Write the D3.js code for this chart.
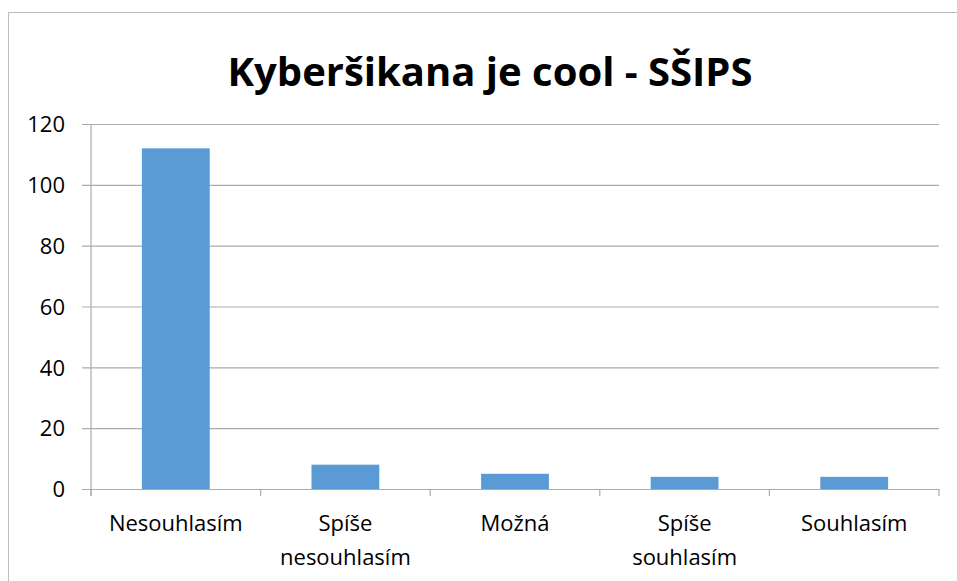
<!DOCTYPE html>
<html>
<head>
<meta charset="utf-8">
<script src="https://cdn.jsdelivr.net/npm/d3@7"></script>
<style>
  html, body { margin: 0; padding: 0; background: #fff; }
  svg { display: block; }
  text { font-family: "Open Sans", "Noto Sans", sans-serif; fill: #000; }
</style>
</head>
<body>
<svg id="chart" width="957" height="581"></svg>
<script>
// Survey answers and counts
const categories = [
  ["Nesouhlasím"],
  ["Spíše", "nesouhlasím"],
  ["Možná"],
  ["Spíše", "souhlasím"],
  ["Souhlasím"]
];
const counts = [112, 8, 5, 4, 4];
const yTicks = [0, 20, 40, 60, 80, 100, 120];
const title = "Kyberšikana je cool - SŠIPS";

const svg = d3.select("#chart");
const W = 957, H = 581;
const plot = { left: 91, right: 939, top: 124, bottom: 489 };

// Chart frame
svg.append("path")
  .attr("d", `M8.5,${H} V12.5 H${W}`)
  .attr("fill", "none")
  .attr("stroke", "#bdbdbd")
  .attr("stroke-width", 1);

// Title
svg.append("text")
  .attr("x", 490)
  .attr("y", 86)
  .attr("text-anchor", "middle")
  .style("font-size", "40px")
  .style("font-weight", "700")
  .text(title);

const keys = categories.map(c => c.join(" "));
const x = d3.scaleBand()
  .domain(keys)
  .range([plot.left, plot.right])
  .paddingInner(0.6)
  .paddingOuter(0.3);

const y = d3.scaleLinear()
  .domain([0, 120])
  .range([plot.bottom, plot.top]);

// Horizontal gridlines and value labels
const yAxis = d3.axisLeft(y)
  .tickValues(yTicks)
  .tickSize(0)
  .tickFormat(d3.format("d"));

const gy = svg.append("g")
  .attr("transform", `translate(${plot.left},0)`)
  .call(yAxis);
gy.select(".domain").remove();
gy.selectAll(".tick line")
  .attr("x1", -9)
  .attr("x2", plot.right - plot.left)
  .attr("stroke", "#ababab")
  .attr("stroke-width", 1.2);
gy.selectAll(".tick text")
  .attr("x", 65 - plot.left)
  .attr("text-anchor", "end")
  .attr("dy", "0.35em")
  .style("font-size", "22px")
  .style("font-family", "\"Open Sans\", sans-serif");

// Vertical axis line
svg.append("line")
  .attr("x1", plot.left).attr("x2", plot.left)
  .attr("y1", y(120)).attr("y2", y(0) + 7)
  .attr("stroke", "#ababab")
  .attr("stroke-width", 1.2);

// Category axis ticks at category boundaries
const boundaries = d3.range(keys.length + 1).map(i => plot.left + i * (plot.right - plot.left) / keys.length);
svg.append("g")
  .selectAll("line")
  .data(boundaries)
  .join("line")
  .attr("x1", d => d).attr("x2", d => d)
  .attr("y1", y(0)).attr("y2", y(0) + 7)
  .attr("stroke", "#ababab")
  .attr("stroke-width", 1.2);

// Bars
svg.append("g")
  .selectAll("rect")
  .data(counts)
  .join("rect")
  .attr("x", (d, i) => x(keys[i]))
  .attr("y", d => y(d))
  .attr("width", x.bandwidth())
  .attr("height", d => y(0) - y(d))
  .attr("fill", "#5b9bd5");

// Category labels
const lab = svg.append("g")
  .selectAll("text")
  .data(categories)
  .join("text")
  .attr("x", (d, i) => x(keys[i]) + x.bandwidth() / 2)
  .attr("y", 531)
  .attr("text-anchor", "middle")
  .style("font-size", "22px");
lab.selectAll("tspan")
  .data(d => d)
  .join("tspan")
  .attr("x", function () { return d3.select(this.parentNode).attr("x"); })
  .attr("dy", (d, i) => i === 0 ? 0 : 34)
  .text(d => d);
</script>
</body>
</html>
